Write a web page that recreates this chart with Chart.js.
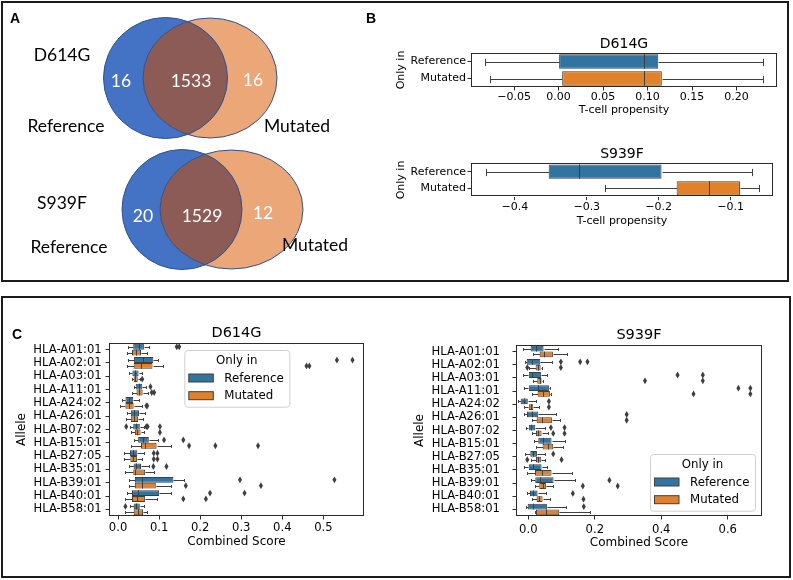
<!DOCTYPE html>
<html>
<head>
<meta charset="utf-8">
<script src="https://cdn.jsdelivr.net/npm/chart.js@4.4.0/dist/chart.umd.min.js"></script>
<style>
  body { margin: 0; width: 793px; height: 580px; background: #fff; position: relative; overflow: hidden; }
  .frame { position: absolute; border: 2px solid #1b1b1b; box-sizing: border-box; }
  canvas { position: absolute; }
  .lbl { position: absolute; white-space: nowrap; line-height: 1; transform: translate(-50%, -50%); font-family: Lato, "Liberation Sans", sans-serif; font-size: 17.5px; color: #000; }
  .num { color: #fff; }
  .letter { position: absolute; line-height: 1; transform: translate(-50%, -50%); font: bold 14px "Liberation Sans", Arial, sans-serif; }
</style>
</head>
<body>
<div class="frame" style="left:1px;top:1px;width:788px;height:281px"></div>
<div class="frame" style="left:1px;top:296px;width:790px;height:282px"></div>

<canvas id="venn" width="370" height="283" style="left:0;top:0"></canvas>
<canvas id="tcellA" width="408" height="90" style="left:380px;top:30px"></canvas>
<canvas id="tcellB" width="408" height="95" style="left:380px;top:139px"></canvas>
<canvas id="scoreA" width="380" height="242" style="left:0;top:318px"></canvas>
<canvas id="scoreB" width="390" height="242" style="left:400px;top:318px"></canvas>

<div class="letter" style="left:15px;top:18px">A</div>
<div class="letter" style="left:371px;top:18px">B</div>
<div class="letter" style="left:17px;top:334px">C</div>

<script>
/* ─── Data ─── */
const mutations   = ["D614G", "S939F"];
const groups      = ["Reference", "Mutated"];

// Venn counts (panel A)
const onlyRef  = [16, 20];
const shared   = [1533, 1529];
const onlyMut  = [16, 12];

// T-cell propensity, panel B  [whisker low, q1, median, q3, whisker high]
const tcellD614G = [[-0.083, 0.000, 0.096, 0.112, 0.230], [-0.077, 0.004, 0.096, 0.116, 0.230]];
const tcellS939F = [[-0.440, -0.353, -0.311, -0.196, -0.070], [-0.275, -0.175, -0.130, -0.087, -0.060]];

// Combined score, panel C
const alleles = ["HLA-A01:01", "HLA-A02:01", "HLA-A03:01", "HLA-A11:01", "HLA-A24:02", "HLA-A26:01",
  "HLA-B07:02", "HLA-B15:01", "HLA-B27:05", "HLA-B35:01", "HLA-B39:01", "HLA-B40:01", "HLA-B58:01"];

const d614gRef = [
  [0.024, 0.037, 0.050, 0.063, 0.075], [0.024, 0.039, 0.060, 0.086, 0.098], [0.026, 0.035, 0.041, 0.050, 0.059],
  [0.038, 0.043, 0.050, 0.059, 0.068], [0.009, 0.018, 0.027, 0.037, 0.052], [0.022, 0.031, 0.038, 0.051, 0.066],
  [0.028, 0.037, 0.044, 0.053, 0.063], [0.038, 0.049, 0.062, 0.075, 0.098], [0.014, 0.029, 0.037, 0.047, 0.064],
  [0.026, 0.038, 0.044, 0.056, 0.075], [0.026, 0.041, 0.058, 0.135, 0.160], [0.022, 0.034, 0.048, 0.100, 0.128],
  [0.030, 0.038, 0.044, 0.053, 0.063]];
const d614gRefOut = [[0.143, 0.149], [0.533, 0.571], [], [0.079], [], [], [0.020, 0.069, 0.072, 0.102],
  [0.112, 0.159], [0.087, 0.096], [0.086, 0.118], [0.297, 0.527], [0.224, 0.308], [0.018]];

const d614gMut = [
  [0.022, 0.034, 0.044, 0.056, 0.071], [0.022, 0.038, 0.055, 0.084, 0.110], [0.034, 0.038, 0.042, 0.048, 0.054],
  [0.035, 0.045, 0.052, 0.060, 0.072], [0.006, 0.018, 0.026, 0.038, 0.058], [0.020, 0.031, 0.038, 0.049, 0.062],
  [0.032, 0.041, 0.046, 0.055, 0.064], [0.032, 0.056, 0.066, 0.094, 0.128], [0.014, 0.030, 0.036, 0.046, 0.058],
  [0.018, 0.037, 0.042, 0.066, 0.088], [0.026, 0.041, 0.058, 0.092, 0.130], [0.018, 0.034, 0.046, 0.066, 0.096],
  [0.018, 0.038, 0.048, 0.061, 0.071]];
const d614gMutOut = [[], [0.459, 0.466], [0.059], [0.082, 0.088], [0.069, 0.071], [], [0.102],
  [0.173, 0.237, 0.341], [0.087, 0.096], [], [0.165, 0.348], [0.159, 0.214], []];

const s939fRef = [
  [-0.015, 0.007, 0.022, 0.046, 0.088], [-0.010, -0.005, 0.010, 0.036, 0.070], [-0.015, 0.000, 0.012, 0.038, 0.055],
  [-0.012, 0.000, 0.030, 0.062, 0.066], [-0.030, -0.023, -0.012, 0.000, 0.022], [-0.012, -0.004, 0.010, 0.030, 0.082],
  [-0.006, 0.000, 0.008, 0.021, 0.050], [0.018, 0.030, 0.045, 0.070, 0.110], [-0.010, 0.006, 0.013, 0.026, 0.050],
  [-0.014, 0.000, 0.015, 0.040, 0.055], [0.008, 0.021, 0.035, 0.076, 0.140], [-0.003, 0.005, 0.015, 0.028, 0.053],
  [-0.006, -0.002, 0.015, 0.056, 0.112]];
const s939fRefOut = [[], [0.098, 0.156, 0.178], [0.449, 0.525], [0.632, 0.668], [0.062], [0.296], [0.068, 0.109],
  [], [0.075], [], [0.244], [0.134], [0.167]];

const s939fMut = [
  [0.015, 0.034, 0.047, 0.074, 0.116], [0.003, 0.022, 0.028, 0.037, 0.040], [0.015, 0.027, 0.035, 0.040, 0.045],
  [0.012, 0.028, 0.045, 0.065, 0.067], [-0.012, 0.000, 0.007, 0.015, 0.033], [0.012, 0.025, 0.040, 0.071, 0.096],
  [0.012, 0.023, 0.030, 0.040, 0.060], [0.022, 0.043, 0.058, 0.075, 0.105], [0.008, 0.023, 0.028, 0.039, 0.050],
  [-0.005, 0.020, 0.040, 0.070, 0.132], [0.020, 0.033, 0.043, 0.053, 0.075], [0.010, 0.025, 0.032, 0.043, 0.066],
  [0.020, 0.023, 0.052, 0.093, 0.185]];
const s939fMutOut = [[], [-0.003, 0.098], [0.351, 0.525], [0.497, 0.668], [0.062], [0.296], [0.075, 0.109],
  [], [-0.003, 0.100], [], [0.164, 0.269], [0.166], []];

/* ─── Style ─── */
const BLUE = "#3274a1", ORANGE = "#e1812c", EDGE = "#3f3f3f", AXIS = "#2b2b2b";
const FONT = "DejaVu Sans";

/* ─── Venn (panel A) ─── */
// drawing layout in canvas units (1 unit = 1 px)
const vennGeo = [
  { cy: 78,    ref: [165.5, 62, 60.5], mut: [210, 67, 60],    name: [62, 55],  refLab: [66, 126], mutLab: [297, 126], nums: [[121, 81], [191, 81], [253, 80]] },
  { cy: 209.5, ref: [182, 60, 60],     mut: [231.5, 71.5, 59.5], name: [62, 203], refLab: [69, 247], mutLab: [315, 245], nums: [[143, 216], [202, 216], [263, 213]] }
];

const vennPlugin = {
  id: "venn",
  afterDatasetsDraw(chart) {
    const { ctx, scales: { x, y } } = chart;
    const a = chart.getDatasetMeta(0).data, b = chart.getDatasetMeta(1).data;
    const ra = chart.data.datasets[0].radii, rb = chart.data.datasets[1].radii;
    const rx = v => x.getPixelForValue(v) - x.getPixelForValue(0);
    const ry = v => Math.abs(y.getPixelForValue(v) - y.getPixelForValue(0));
    const ell = (p, r) => { ctx.beginPath(); ctx.ellipse(p.x, p.y, rx(r[0]), ry(r[1]), 0, 0, Math.PI * 2); };
    ctx.save();
    a.forEach((p, i) => {
      const q = b[i];
      ell(p, ra[i]); ctx.fillStyle = "#4472c4"; ctx.fill();
      ell(q, rb[i]); ctx.fillStyle = "#eca779"; ctx.fill();
      ctx.save(); ell(p, ra[i]); ctx.clip();
      ell(q, rb[i]); ctx.fillStyle = "#8c5b55"; ctx.fill();
      ctx.restore();
      ctx.strokeStyle = "#2f528f"; ctx.lineWidth = 1;
      ell(p, ra[i]); ctx.stroke();
      ell(q, rb[i]); ctx.stroke();
    });
    ctx.restore();
  }
};

new Chart(document.getElementById("venn"), {
  type: "scatter",
  data: {
    datasets: [
      { label: groups[0], data: vennGeo.map(g => ({ x: g.ref[0], y: g.cy })), radii: vennGeo.map(g => g.ref.slice(1)), pointRadius: 0 },
      { label: groups[1], data: vennGeo.map(g => ({ x: g.mut[0], y: g.cy })), radii: vennGeo.map(g => g.mut.slice(1)), pointRadius: 0 }
    ]
  },
  options: {
    responsive: false, animation: false, devicePixelRatio: 1,
    layout: { padding: 0 },
    plugins: { legend: { display: false }, tooltip: { enabled: false } },
    scales: {
      x: { type: "linear", min: 0, max: 370, display: false },
      y: { type: "linear", min: 0, max: 283, reverse: true, display: false }
    }
  },
  plugins: [vennPlugin]
});

// Venn text
vennGeo.forEach((g, i) => {
  const add = (txt, pos, cls) => {
    const d = document.createElement("div");
    d.className = "lbl" + (cls ? " " + cls : "");
    d.style.left = pos[0] + "px"; d.style.top = pos[1] + "px";
    d.textContent = txt;
    document.body.appendChild(d);
  };
  add(mutations[i], g.name);
  add(groups[0], g.refLab);
  add(groups[1], g.mutLab);
  [onlyRef[i], shared[i], onlyMut[i]].forEach((n, k) => add(String(n), g.nums[k], "num"));
});

/* ─── Box plot helpers ─── */
const boxPlugin = {
  id: "boxes",
  beforeDatasetsDraw(chart) {
    const { ctx, scales: { x } } = chart;
    ctx.save();
    ctx.strokeStyle = EDGE; ctx.lineWidth = 1;
    chart.data.datasets.forEach((ds, i) => {
      chart.getDatasetMeta(i).data.forEach((el, j) => {
        const s = ds.stats[j], h = el.height, y = Math.round(el.y) + 0.5;
        const p = v => Math.round(x.getPixelForValue(v)) + 0.5;
        ctx.beginPath();
        ctx.moveTo(p(s[0]), y); ctx.lineTo(p(s[1]), y);
        ctx.moveTo(p(s[3]), y); ctx.lineTo(p(s[4]), y);
        ctx.moveTo(p(s[0]), y - h / 4); ctx.lineTo(p(s[0]), y + h / 4);
        ctx.moveTo(p(s[4]), y - h / 4); ctx.lineTo(p(s[4]), y + h / 4);
        ctx.stroke();
      });
    });
    ctx.restore();
  },
  afterDatasetsDraw(chart) {
    const { ctx, scales: { x } } = chart;
    ctx.save();
    ctx.strokeStyle = EDGE; ctx.fillStyle = EDGE; ctx.lineWidth = 1;
    chart.data.datasets.forEach((ds, i) => {
      chart.getDatasetMeta(i).data.forEach((el, j) => {
        const s = ds.stats[j], h = el.height, y = el.y;
        const m = Math.round(x.getPixelForValue(s[2])) + 0.5;
        ctx.beginPath(); ctx.moveTo(m, y - h / 2); ctx.lineTo(m, y + h / 2); ctx.stroke();
        (ds.outliers ? ds.outliers[j] : []).forEach(v => {
          const px = x.getPixelForValue(v), dy = ds.flierSize, dx = dy * 0.6;
          ctx.beginPath();
          ctx.moveTo(px, y - dy); ctx.lineTo(px + dx, y); ctx.lineTo(px, y + dy); ctx.lineTo(px - dx, y);
          ctx.closePath(); ctx.fill();
        });
      });
    });
    // axes frame (all four spines)
    const a = chart.chartArea;
    ctx.strokeStyle = AXIS;
    ctx.strokeRect(Math.round(a.left) + 0.5, Math.round(a.top) + 0.5,
                   Math.round(a.right - a.left) - 1, Math.round(a.bottom - a.top) - 1);
    ctx.restore();
  }
};

const legendPlugin = {
  id: "boxLegend",
  afterDraw(chart, args, o) {
    if (!o || !o.show) return;
    const { ctx, chartArea: a } = chart;
    const bx = o.fromBottom ? a.right - o.right - o.w : a.left + o.left;
    const by = o.fromBottom ? a.bottom - o.bottom - o.h : a.top + o.top;
    ctx.save();
    ctx.beginPath();
    ctx.roundRect(bx + 0.5, by + 0.5, o.w, o.h, 3);
    ctx.fillStyle = "rgba(255,255,255,0.85)"; ctx.fill();
    ctx.strokeStyle = "#d0d0d0"; ctx.lineWidth = 1; ctx.stroke();
    ctx.font = `11.8px "${FONT}"`;
    ctx.fillStyle = "#000"; ctx.textBaseline = "middle";
    ctx.textAlign = "center";
    ctx.fillText(o.title, bx + o.w / 2, by + 11);
    ctx.textAlign = "left";
    chart.data.datasets.forEach((ds, i) => {
      const ry = by + 28 + i * 17.7;
      ctx.fillStyle = ds.backgroundColor;
      ctx.fillRect(bx + 4.5, ry - 4, 24.5, 8);
      ctx.strokeStyle = EDGE; ctx.strokeRect(bx + 4.5, ry - 4, 24.5, 8);
      ctx.fillStyle = "#000";
      ctx.fillText(ds.label, bx + 40, ry + 0.5);
    });
    ctx.restore();
  }
};

const fmt = d => v => v.toFixed(d).replace("-", "\u2212");

/* ─── Panel B: T-cell propensity ─── */
function tcellChart(id, title, stats, xr, pads) {
  return new Chart(document.getElementById(id), {
    type: "bar",
    data: {
      labels: groups,
      datasets: [{
        label: "Only in",
        data: stats.map(s => [s[1], s[3]]),
        stats: stats, flierSize: 3.5,
        backgroundColor: [BLUE, ORANGE], borderColor: EDGE, borderWidth: 1, borderSkipped: false,
        categoryPercentage: 0.86, barPercentage: 1
      }]
    },
    options: {
      indexAxis: "y", responsive: false, animation: false, devicePixelRatio: 1,
      layout: { padding: { right: pads.right } },
      plugins: {
        legend: { display: false }, tooltip: { enabled: false },
        title: { display: true, text: title, fullSize: false, color: "#000",
                 font: { family: FONT, size: 14, weight: "normal" }, padding: { top: pads.titleTop, bottom: pads.titleBottom } }
      },
      scales: {
        x: {
          type: "linear", min: xr[0], max: xr[1],
          ticks: { stepSize: xr[2], includeBounds: false, callback: fmt(xr[3]), color: "#000", font: { family: FONT, size: 11 }, padding: 0, maxRotation: 0 },
          grid: { drawOnChartArea: false, tickLength: 3.5, color: AXIS },
          border: { display: false },
          title: { display: true, text: "T-cell propensity", color: "#000", font: { family: FONT, size: 11 }, padding: { top: 0, bottom: pads.xTitle } },
          afterFit: s => { s.height = pads.xh; }
        },
        y: {
          ticks: { color: "#000", font: { family: FONT, size: 11 }, padding: 1.5 },
          grid: { drawOnChartArea: false, tickLength: 3.5, color: AXIS, offset: false },
          border: { display: false },
          title: { display: true, text: "Only in", color: "#000", font: { family: FONT, size: 11 }, padding: { top: 14.4, bottom: 0 } },
          afterFit: s => { s.width = 91; }
        }
      }
    },
    plugins: [boxPlugin]
  });
}

tcellChart("tcellA", mutations[0], tcellD614G, [-0.0985, 0.2455, 0.05, 2], { right: 11, titleTop: 6.2, titleBottom: 0, xh: 33, xTitle: 3.4 });
tcellChart("tcellB", mutations[1], tcellS939F, [-0.461, -0.041, 0.1, 1], { right: 15, titleTop: 6.6, titleBottom: 0.9, xh: 37.3, xTitle: 6.4 });

/* ─── Panel C: combined score per allele ─── */
function scoreChart(id, title, ref, refOut, mut, mutOut, xr, L) {
  const mk = (label, st, out, color) => ({
    label, data: st.map(s => [s[1], s[3]]), stats: st, outliers: out, flierSize: 3.4,
    backgroundColor: color, borderColor: EDGE, borderWidth: 1, borderSkipped: false,
    categoryPercentage: 0.88, barPercentage: 1
  });
  return new Chart(document.getElementById(id), {
    type: "bar",
    data: { labels: alleles, datasets: [mk(groups[0], ref, refOut, BLUE), mk(groups[1], mut, mutOut, ORANGE)] },
    options: {
      indexAxis: "y", responsive: false, animation: false, devicePixelRatio: 1,
      layout: { padding: { right: L.right } },
      plugins: {
        legend: { display: false }, tooltip: { enabled: false },
        title: { display: true, text: title, fullSize: false, color: "#000",
                 font: { family: FONT, size: 14.5, weight: "normal" }, padding: { top: L.titleTop, bottom: 1.3 } },
        boxLegend: Object.assign({ show: true, title: "Only in", w: 105, h: 56.7 }, L.legend)
      },
      scales: {
        x: {
          type: "linear", min: xr[0], max: xr[1],
          ticks: { stepSize: xr[2], includeBounds: false, callback: fmt(1), color: "#000", font: { family: FONT, size: 11.6 }, padding: L.xTick, maxRotation: 0 },
          grid: { drawOnChartArea: false, tickLength: 3.5, color: AXIS },
          border: { display: false },
          title: { display: true, text: "Combined Score", color: "#000", font: { family: FONT, size: 12 }, padding: { top: 0, bottom: L.xTitle } },
          afterFit: s => { s.height = 44; }
        },
        y: {
          ticks: { color: "#000", font: { family: FONT, size: 11.6 }, padding: L.yTick, autoSkip: false },
          grid: { drawOnChartArea: false, tickLength: 3.5, color: AXIS, offset: false },
          border: { display: false },
          title: { display: true, text: "Allele", color: "#000", font: { family: FONT, size: 12 }, padding: { top: L.yTitle, bottom: 0 } },
          afterFit: s => { s.width = L.yw; }
        }
      }
    },
    plugins: [boxPlugin, legendPlugin]
  });
}

scoreChart("scoreA", mutations[0], d614gRef, d614gRefOut, d614gMut, d614gMutOut, [-0.022, 0.599, 0.1],
  { right: 16, titleTop: 6.3, xTick: 1.8, xTitle: 11.1, yTick: 3.8, yTitle: 14.5, yw: 109,
    legend: { left: 75.3, top: 7 } });
scoreChart("scoreB", mutations[1], s939fRef, s939fRefOut, s939fMut, s939fMutOut, [-0.037, 0.703, 0.2],
  { right: 28, titleTop: 8.3, xTick: 3.5, xTitle: 10.1, yTick: 12.5, yTitle: 12.8, yw: 116,
    legend: { fromBottom: true, right: 7, bottom: 5.3 } });
</script>
</body>
</html>
